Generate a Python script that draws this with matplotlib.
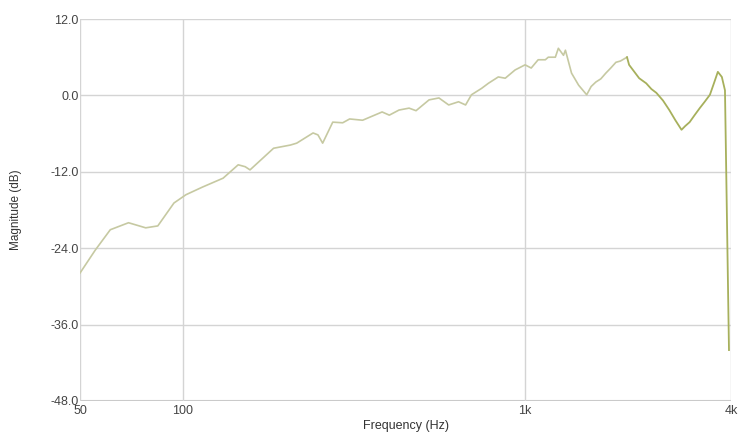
import matplotlib
matplotlib.use("Agg")
import matplotlib.pyplot as plt
from matplotlib.ticker import FixedLocator, NullLocator

# frequency response (Hz, dB)
freq_hz = [
    50, 55.4, 61.3, 69.3, 77.8, 84.4, 94.1, 102, 114, 131, 145, 152, 157,
    184, 206, 215, 240, 248, 256, 274, 293, 307, 335, 382, 401, 428, 458,
    480, 524, 560, 598, 639, 670, 697, 746, 781, 835, 875, 935, 1000, 1042,
    1092, 1146, 1169, 1226, 1251, 1295, 1312, 1367, 1434, 1514, 1560, 1610,
    1665, 1722, 1780, 1843, 1900, 1986, 2014, 2080, 2155, 2260, 2340, 2420,
    2530, 2640, 2750, 2866, 2940, 3027, 3130, 3240, 3350, 3470, 3570, 3660,
    3760, 3840, 3945,
]
magnitude_db = [
    -27.9, -24.3, -21.1, -20.0, -20.8, -20.5, -16.9, -15.6, -14.4, -13.0,
    -10.9, -11.2, -11.7, -8.3, -7.8, -7.5, -5.9, -6.2, -7.5, -4.2, -4.3,
    -3.7, -3.9, -2.6, -3.1, -2.3, -2.0, -2.4, -0.7, -0.4, -1.5, -1.0, -1.5,
    0.1, 1.1, 1.9, 2.9, 2.7, 4.0, 4.8, 4.3, 5.6, 5.6, 6.0, 6.0, 7.4, 6.3,
    7.1, 3.5, 1.6, 0.1, 1.4, 2.1, 2.6, 3.5, 4.3, 5.2, 5.4, 6.0, 4.8, 3.8,
    2.7, 1.9, 1.0, 0.4, -0.8, -2.3, -3.9, -5.4, -4.8, -4.2, -3.1, -2.0,
    -1.0, 0.1, 2.0, 3.7, 2.9, 0.8, -40.0,
]

x_ticks = [50, 100, 1000, 4000]
x_tick_labels = ["50", "100", "1k", "4k"]
y_ticks = [-48, -36, -24, -12, 0, 12]

plt.rcParams["font.family"] = ["Liberation Sans", "DejaVu Sans"]

fig = plt.figure(figsize=(7.43, 4.36), dpi=100)
ax = fig.add_axes([0.1077, 0.0803, 0.8762, 0.8761])

# pale trace, darker olive where the response gets dense/jagged
split = freq_hz.index(1986)
ax.plot(freq_hz[:split + 1], magnitude_db[:split + 1], color="#c6c9a2", lw=1.2)
ax.plot(freq_hz[split:], magnitude_db[split:], color="#a7b05c", lw=1.3)

ax.set_xscale("log")
ax.set_xlim(50, 4000)
ax.set_ylim(-48, 12)
ax.xaxis.set_major_locator(FixedLocator(x_ticks))
ax.xaxis.set_minor_locator(NullLocator())
ax.set_xticklabels(x_tick_labels)
ax.set_yticks(y_ticks)
ax.set_yticklabels([f"{v:.1f}" for v in y_ticks])

ax.grid(True, color="#d4d4d4", lw=1)
ax.tick_params(length=0, labelsize=9, colors="#444444")
ax.tick_params(axis="y", pad=1)
ax.tick_params(axis="x", pad=3)
for s in ax.spines.values():
    s.set_visible(False)
ax.axhline(-48, color="#c8c8c8", lw=1.5, zorder=0)

ax.set_xlabel("Frequency (Hz)", fontsize=9, color="#333333", labelpad=2)
ax.set_ylabel("Magnitude (dB)", fontsize=8.5, color="#333333", labelpad=20)

fig.savefig("out.png", dpi=100)
